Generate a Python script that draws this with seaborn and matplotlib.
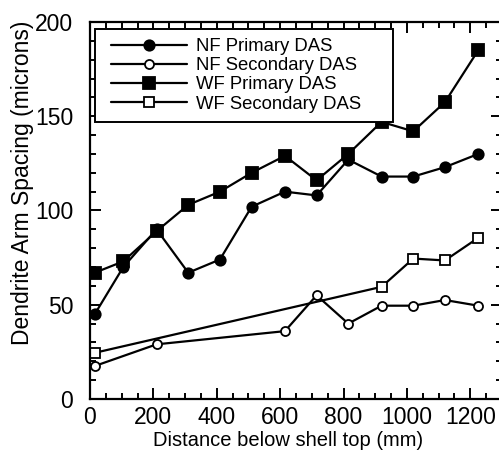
import numpy as np
import pandas as pd
import matplotlib
matplotlib.use('Agg')
import matplotlib.pyplot as plt
import seaborn as sns
from matplotlib.ticker import MultipleLocator
from matplotlib.lines import Line2D
from matplotlib.legend_handler import HandlerLine2D

# distance below shell top (mm) and dendrite arm spacing (microns)
nf_x = [15, 105, 210, 310, 410, 510, 615, 715, 815, 920, 1020, 1120, 1225]
nf_primary = [45, 70, 90, 67, 74, 102, 110, 108, 127, 118, 118, 123, 130]
nf_sec_x = [15, 210, 615, 715, 815, 920, 1020, 1120, 1225]
nf_secondary = [17.5, 29, 36, 55, 40, 49.5, 49.5, 52.5, 49.5]
wf_x = [15, 105, 210, 310, 410, 510, 615, 715, 815, 920, 1020, 1120, 1225]
wf_primary = [67, 73, 89, 103, 110, 120, 129, 116, 130, 147, 142, 157.5, 185]
wf_sec_x = [15, 920, 1020, 1120, 1225]
wf_secondary = [24.5, 59.5, 74.5, 73.5, 85.5]

labels = ['NF Primary DAS', 'NF Secondary DAS', 'WF Primary DAS', 'WF Secondary DAS']

sns.set_style('ticks')
plt.rcParams['font.family'] = ['Liberation Sans', 'DejaVu Sans']
plt.rcParams['text.color'] = 'black'
plt.rcParams['axes.labelcolor'] = 'black'
plt.rcParams['xtick.color'] = 'black'
plt.rcParams['ytick.color'] = 'black'

W, H = 499, 454
fig = plt.figure(figsize=(W / 100, H / 100), dpi=100)
ax = fig.add_axes([90 / W, 55 / H, 412 / W, 377 / H])

series = [
    (nf_x, nf_primary, 'o', 'black', 7.5),
    (nf_sec_x, nf_secondary, 'o', 'white', 6.5),
    (wf_x, wf_primary, 's', 'black', 8.5),
    (wf_sec_x, wf_secondary, 's', 'white', 6.5),
]
for (xs, ys, mk, fc, ms), lab in zip(series, labels):
    df = pd.DataFrame({'x': xs, 'y': ys})
    sns.lineplot(data=df, x='x', y='y', ax=ax, color='black', lw=1.6,
                 marker=mk, markerfacecolor=fc, markeredgecolor='black',
                 markeredgewidth=1.3, ms=ms, label=lab)

ax.set_xlim(0, 1300)
ax.set_ylim(0, 200)
ax.xaxis.set_major_locator(MultipleLocator(200))
ax.xaxis.set_minor_locator(MultipleLocator(50))
ax.yaxis.set_major_locator(MultipleLocator(50))
ax.yaxis.set_minor_locator(MultipleLocator(10))
ax.tick_params(which='both', direction='in', top=True, right=True, width=1.4,
               color='black', labelcolor='black')
ax.tick_params(which='major', length=8)
ax.tick_params(which='minor', length=4)
ax.tick_params(axis='y', which='major', labelsize=16.5, pad=12)
ax.tick_params(axis='x', which='major', labelsize=16.5, pad=5)
for s in ax.spines.values():
    s.set_linewidth(1.6)
    s.set_color('black')

ax.set_xlabel('Distance below shell top (mm)', fontsize=14.5)
ax.set_ylabel('Dendrite Arm Spacing (microns)', fontsize=16.5)
ax.xaxis.label.set_va('center')
ax.yaxis.label.set_va('center')
ax.xaxis.set_label_coords(0.48, -0.111)
ax.yaxis.set_label_coords(-0.165, 0.573)

leg = ax.legend(loc='upper left', bbox_to_anchor=(0.012, 0.735, 0.723, 0.247),
                mode='expand', borderaxespad=0, fontsize=13.3, handlelength=4.5,
                handletextpad=0.45, labelspacing=0.12, borderpad=0.5,
                fancybox=False, framealpha=1, edgecolor='black',
                handler_map={Line2D: HandlerLine2D(xpad=0.35)})
leg.get_frame().set_linewidth(1.4)

fig.savefig('out.png', dpi=100)
